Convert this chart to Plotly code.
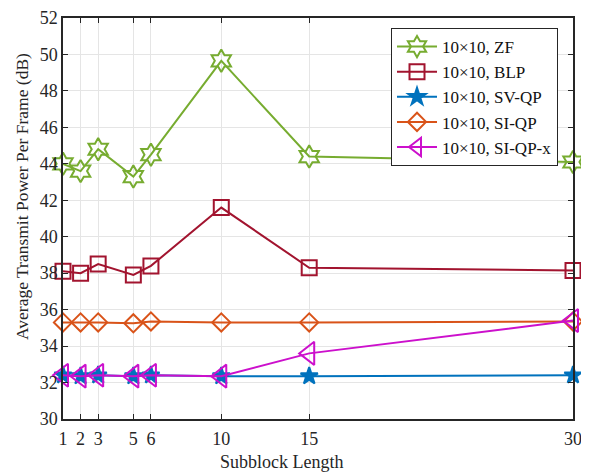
import plotly.graph_objects as go

x_vals = [1, 2, 3, 5, 6, 10, 15, 30]
zf = [44.0, 43.6, 44.8, 43.3, 44.5, 49.65, 44.4, 44.1]
blp = [38.1, 38.0, 38.5, 37.9, 38.4, 41.6, 38.3, 38.15]
sv_qp = [32.4, 32.35, 32.4, 32.35, 32.4, 32.35, 32.35, 32.4]
si_qp = [35.3, 35.3, 35.3, 35.25, 35.35, 35.3, 35.3, 35.35]
si_qp_x = [32.4, 32.35, 32.4, 32.35, 32.4, 32.35, 33.6, 35.4]

names = ["10×10, ZF", "10×10, BLP", "10×10, SV-QP", "10×10, SI-QP", "10×10, SI-QP-x"]
x_ticks = [1, 2, 3, 5, 6, 10, 15, 30]
y_ticks = list(range(30, 53, 2))
x_title = "Subblock Length"
y_title = "Average Transmit Power Per Frame (dB)"

series = [
    (zf, names[0], "#77AC30", "hexagram-open", 17),
    (blp, names[1], "#A2142F", "square-open", 15),
    (sv_qp, names[2], "#0072BD", "star", 13),
    (si_qp, names[3], "#D95319", "diamond-open", 14),
    (si_qp_x, names[4], "#CC10CC", "triangle-left-open", 20),
]

fig = go.Figure()
for ys, nm, col, sym, sz in series:
    fig.add_trace(go.Scatter(
        x=x_vals, y=ys, name=nm, mode="lines+markers",
        line=dict(color=col, width=2),
        marker=dict(symbol=sym, size=sz, color=col,
                    line=dict(color=col, width=2)),
        cliponaxis=False,
    ))

font_family = "Liberation Serif, Times New Roman, serif"
# page body has an 8px margin; figure sized so the plot box lands at x 63-573, y 18-419
fig.update_layout(
    template="none",
    width=581, height=465,
    margin=dict(l=55, r=16, t=10, b=54, autoexpand=False),
    paper_bgcolor="white", plot_bgcolor="white",
    font=dict(family=font_family, size=18, color="#262626"),
    showlegend=True,
    legend=dict(x=0.9706, y=0.975, xanchor="right", yanchor="top",
                bgcolor="white", bordercolor="#262626", borderwidth=1,
                font=dict(size=17, family=font_family, color="#111"),
                tracegroupgap=0, itemwidth=40),
    xaxis=dict(range=[1, 30], tickvals=x_ticks, ticktext=[str(v) for v in x_ticks],
               automargin=False, ticklabelstandoff=3,
               showgrid=True, gridcolor="#e5e5e5", gridwidth=1,
               ticks="inside", ticklen=5, tickcolor="#262626",
               showline=True, linecolor="#262626", linewidth=1.5, mirror="ticks",
               zeroline=False),
    yaxis=dict(range=[30, 52], tickvals=y_ticks,
               automargin=False,
               showgrid=True, gridcolor="#e5e5e5", gridwidth=1,
               ticks="inside", ticklen=5, tickcolor="#262626",
               showline=True, linecolor="#262626", linewidth=1.5, mirror="ticks",
               zeroline=False),
    annotations=[
        dict(text=x_title, xref="paper", yref="paper", x=0.429, y=-0.107,
             xanchor="center", yanchor="middle", showarrow=False,
             font=dict(size=18, family=font_family, color="#262626")),
        dict(text=y_title, xref="paper", yref="paper", x=-0.0804, y=0.556,
             xanchor="center", yanchor="middle", showarrow=False, textangle=-90,
             font=dict(size=17.5, family=font_family, color="#262626")),
    ],
)

fig.write_html("out.html")
